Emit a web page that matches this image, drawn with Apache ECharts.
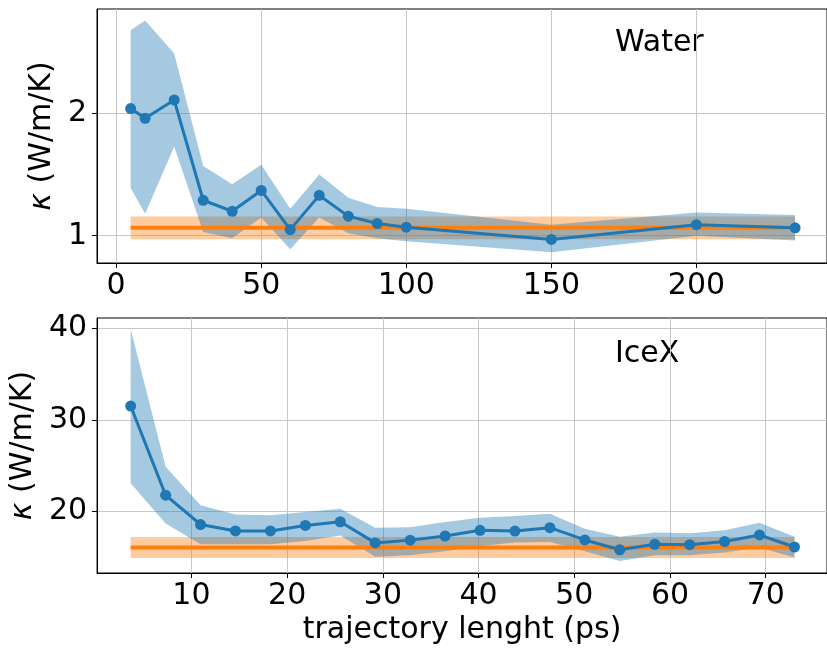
<!DOCTYPE html>
<html>
<head>
<meta charset="utf-8">
<script src="https://cdn.jsdelivr.net/npm/echarts@6/dist/echarts.min.js"></script>
<style>
  html, body { margin: 0; padding: 0; background: #fff; }
  #chart { width: 827px; height: 651px; }
</style>
</head>
<body>
<div id="chart"></div>
<script>
// water: kappa vs trajectory length
var waterX  = [5, 10, 20, 30, 40, 50, 60, 70, 80, 90, 100, 150, 200, 234];
var waterK  = [2.04, 1.96, 2.11, 1.29, 1.20, 1.37, 1.05, 1.33, 1.16, 1.10, 1.07, 0.97, 1.09, 1.065];
var waterLo = [1.39, 1.18, 1.73, 1.03, 0.98, 1.15, 0.89, 1.15, 1.02, 0.98, 0.955, 0.865, 1.0, 0.96];
var waterHi = [2.68, 2.76, 2.49, 1.57, 1.42, 1.58, 1.22, 1.50, 1.31, 1.235, 1.22, 1.09, 1.19, 1.17];
var waterRef = 1.065, waterRefErr = 0.093;
var waterTicksX = [0, 50, 100, 150, 200];
var waterTicksY = [1, 2];

// ice X
var iceX  = [3.65, 7.3, 10.95, 14.6, 18.25, 21.9, 25.55, 29.2, 32.85, 36.5,
             40.15, 43.8, 47.45, 51.1, 54.75, 58.4, 62.05, 65.7, 69.35, 73.0];
var iceK  = [31.5, 21.8, 18.6, 17.9, 17.9, 18.5, 18.9, 16.6, 16.9, 17.35,
             17.97, 17.89, 18.26, 16.92, 15.85, 16.45, 16.4, 16.75, 17.46, 16.15];
var iceLo = [23.1, 18.7, 16.45, 16.45, 16.45, 16.8, 17.4, 15.1, 15.25, 15.7,
             16.26, 16.63, 16.7, 15.7, 14.63, 15.25, 15.25, 15.54, 16.09, 15.0];
var iceHi = [39.9, 24.9, 20.7, 19.7, 19.6, 19.96, 20.33, 18.26, 18.3, 18.87,
             19.34, 19.52, 19.78, 18.15, 17.28, 17.72, 17.64, 17.97, 18.8, 17.28];
var iceRef = 16.1, iceRefErr = 1.14;
var iceTicksX = [10, 20, 30, 40, 50, 60, 70];
var iceTicksY = [20, 30, 40];

var BLUE = '#1f77b4', ORANGE = '#ff7f0e';
var FONT = 'DejaVu Sans';

var myChart = echarts.init(document.getElementById('chart'));

// shaded band between lo and hi, drawn as one polygon
function band(idx, xs, lo, hi, color, z) {
    return {
        type: 'custom',
        xAxisIndex: idx,
        yAxisIndex: idx,
        z: z,
        silent: true,
        clip: true,
        data: xs.map(function (x, i) { return [x, lo[i], hi[i]]; }),
        encode: {x: 0, y: [1, 2]},
        renderItem: function (params, api) {
            if (params.dataIndex !== 0) return;
            var pts = [];
            for (var i = 0; i < xs.length; i++) pts.push(api.coord([xs[i], hi[i]]));
            for (var j = xs.length - 1; j >= 0; j--) pts.push(api.coord([xs[j], lo[j]]));
            return {
                type: 'polygon',
                shape: {points: pts},
                style: {fill: color, opacity: 0.4}
            };
        }
    };
}

function refBand(idx, xs, ref, err, z) {
    var ends = [xs[0], xs[xs.length - 1]];
    return band(idx, ends, [ref - err, ref - err], [ref + err, ref + err], ORANGE, z);
}

function refLine(idx, xs, ref) {
    return {
        type: 'line',
        xAxisIndex: idx,
        yAxisIndex: idx,
        z: 4,
        silent: true,
        symbol: 'none',
        lineStyle: {color: ORANGE, width: 4},
        data: [[xs[0], ref], [xs[xs.length - 1], ref]]
    };
}

function kLine(idx, xs, ys) {
    return {
        type: 'line',
        xAxisIndex: idx,
        yAxisIndex: idx,
        z: 5,
        silent: true,
        symbol: 'circle',
        symbolSize: 11,
        itemStyle: {color: BLUE},
        lineStyle: {color: BLUE, width: 3},
        data: xs.map(function (x, i) { return [x, ys[i]]; })
    };
}

function xAx(idx, min, max, ticks, name) {
    return {
        gridIndex: idx,
        type: 'value',
        min: min,
        max: max,
        name: name || '',
        nameLocation: 'middle',
        nameGap: 42,
        nameTextStyle: {fontSize: 30, fontFamily: FONT, color: '#000'},
        axisLine: {show: true, onZero: false, lineStyle: {color: '#000', width: 1}},
        axisTick: {show: true, customValues: ticks, length: 5, lineStyle: {color: '#000'}},
        axisLabel: {customValues: ticks, fontSize: 30, fontFamily: FONT, color: '#000', margin: 8},
        splitLine: {show: true, lineStyle: {color: '#c8c8c8', width: 1}}
    };
}

function yAx(idx, min, max, ticks, gap) {
    return {
        gridIndex: idx,
        type: 'value',
        min: min,
        max: max,
        name: '{i|κ} (W/m/K)',
        nameLocation: 'middle',
        nameGap: gap,
        nameTextStyle: {
            fontSize: 30, fontFamily: FONT, color: '#000',
            rich: {i: {fontSize: 30, fontFamily: FONT, fontStyle: 'italic', color: '#000'}}
        },
        axisLine: {show: true, onZero: false, lineStyle: {color: '#000', width: 1}},
        axisTick: {show: true, customValues: ticks, length: 5, lineStyle: {color: '#000'}},
        axisLabel: {customValues: ticks, fontSize: 30, fontFamily: FONT, color: '#000', margin: 10},
        splitLine: {show: true, lineStyle: {color: '#c8c8c8', width: 1}}
    };
}

var option = {
    animation: false,
    backgroundColor: '#fff',
    grid: [
        {left: 97, top: 9, width: 738, height: 254, show: true, borderColor: '#000', borderWidth: 1},
        {left: 97, top: 318, width: 738, height: 255, show: true, borderColor: '#000', borderWidth: 1}
    ],
    xAxis: [
        xAx(0, -6.6, 245, waterTicksX),
        xAx(1, 0.14, 76.4, iceTicksX, 'trajectory lenght (ps)')
    ],
    yAxis: [
        yAx(0, 0.777, 2.854, waterTicksY, 32),
        yAx(1, 13.32, 41.09, iceTicksY, 53)
    ],
    graphic: [
        {type: 'text', left: 615, top: 28, style: {text: 'Water', font: '30px "DejaVu Sans"', fill: '#000'}},
        {type: 'text', left: 615, top: 339, style: {text: 'IceX', font: '30px "DejaVu Sans"', fill: '#000'}}
    ],
    series: [
        refBand(0, waterX, waterRef, waterRefErr, 2),
        band(0, waterX, waterLo, waterHi, BLUE, 3),
        refLine(0, waterX, waterRef),
        kLine(0, waterX, waterK),
        refBand(1, iceX, iceRef, iceRefErr, 2),
        band(1, iceX, iceLo, iceHi, BLUE, 3),
        refLine(1, iceX, iceRef),
        kLine(1, iceX, iceK)
    ]
};

myChart.setOption(option);
</script>
</body>
</html>
